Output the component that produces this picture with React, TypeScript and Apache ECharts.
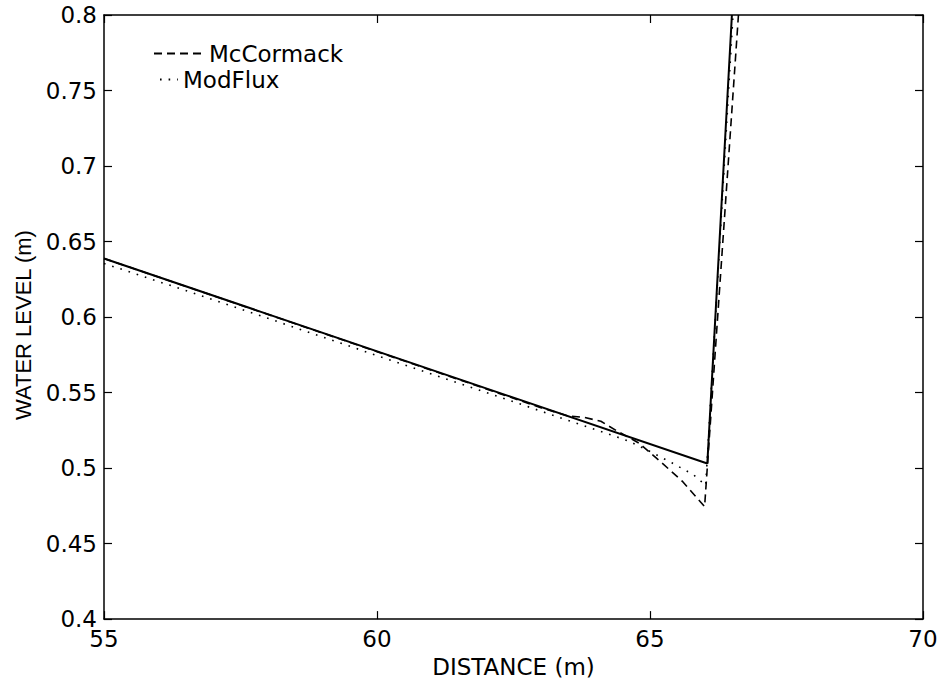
import React, { useEffect, useRef } from "react";
import * as echarts from "echarts";

// Analytical (solid) profile
const exactX = [55, 66.05, 66.5];
const exactY = [0.6388, 0.503, 0.8];

// McCormack (dashed)
const mcX = [55, 60, 62, 63, 63.5, 63.8, 64.1, 64.4, 64.8, 65.2, 65.6, 66.0, 66.62];
const mcY = [0.6388, 0.5771, 0.5524, 0.54, 0.5345, 0.5335, 0.531, 0.5245, 0.5165, 0.504, 0.491, 0.4745, 0.8];

// ModFlux (dotted)
const mfX = [55, 57, 60, 62, 64, 64.6, 65.0, 65.4, 65.8, 66.02, 66.52];
const mfY = [0.6355, 0.6115, 0.5745, 0.55, 0.5255, 0.518, 0.511, 0.5035, 0.4955, 0.4885, 0.8];

const xTicks = { min: 55, max: 70, interval: 5 };
const yTicks = { min: 0.4, max: 0.8, interval: 0.05 };

const FONT = "'DejaVu Sans', sans-serif";

const pairs = (xs: number[], ys: number[]) => xs.map((x, i) => [x, ys[i]]);

export default function App() {
  const ref = useRef<HTMLDivElement>(null);
  useEffect(() => {
    if (!ref.current) return;
    const chart = echarts.init(ref.current, undefined, { renderer: "svg" });
    const axisLine = { show: true, lineStyle: { color: "#000", width: 1.5 } };
    const tick = { show: true, inside: true, length: 8, lineStyle: { color: "#000", width: 1.2 } };
    const legendCommon = {
      itemHeight: 14,
      selectedMode: false,
      itemStyle: { color: "transparent", borderColor: "transparent", borderWidth: 0, opacity: 0 },
      textStyle: { fontFamily: FONT, fontSize: 23, color: "#000" },
    };
    chart.setOption({
      animation: false,
      backgroundColor: "#fff",
      grid: { left: 104, right: 20, top: 15, bottom: 60, containLabel: false },
      legend: [
        { ...legendCommon, data: ["McCormack"], left: 148, top: 37, itemWidth: 50 },
        { ...legendCommon, data: ["ModFlux"], left: 154, top: 63, itemWidth: 18 },
      ],
      xAxis: [
        {
          type: "value",
          ...xTicks,
          name: "DISTANCE (m)",
          nameLocation: "middle",
          nameGap: 29,
          nameTextStyle: { fontFamily: FONT, fontSize: 23, color: "#000" },
          axisLine,
          axisTick: tick,
          splitLine: { show: false },
          axisLabel: { fontFamily: FONT, fontSize: 23, color: "#000", margin: 8 },
        },
        {
          type: "value",
          position: "top",
          ...xTicks,
          axisLine,
          axisTick: tick,
          splitLine: { show: false },
          axisLabel: { show: false },
        },
      ],
      yAxis: [
        {
          type: "value",
          ...yTicks,
          name: "WATER LEVEL (m)",
          nameLocation: "middle",
          nameGap: 66,
          nameTextStyle: {
            fontFamily: "'Liberation Sans', Arial, sans-serif",
            fontSize: 22,
            color: "#000",
            padding: [0, 16, 0, 0],
          },
          axisLine,
          axisTick: tick,
          splitLine: { show: false },
          axisLabel: { fontFamily: FONT, fontSize: 23, color: "#000", margin: 7 },
        },
        {
          type: "value",
          position: "right",
          ...yTicks,
          axisLine,
          axisTick: tick,
          splitLine: { show: false },
          axisLabel: { show: false },
        },
      ],
      series: [
        {
          name: "Exact",
          type: "line",
          data: pairs(exactX, exactY),
          symbol: "none",
          clip: true,
          lineStyle: { color: "#000", width: 2 },
        },
        {
          name: "McCormack",
          type: "line",
          data: pairs(mcX, mcY),
          symbol: "none",
          clip: true,
          itemStyle: { color: "#000" },
          lineStyle: { color: "#000", width: 1.6, type: [8, 5] },
        },
        {
          name: "ModFlux",
          type: "line",
          data: pairs(mfX, mfY),
          symbol: "none",
          clip: true,
          itemStyle: { color: "#000" },
          lineStyle: { color: "#000", width: 1.6, type: [1.6, 7] },
        },
      ],
    });
    return () => chart.dispose();
  }, []);
  return <div ref={ref} style={{ width: 943, height: 683, position: "absolute", left: 0, top: 0 }} />;
}
